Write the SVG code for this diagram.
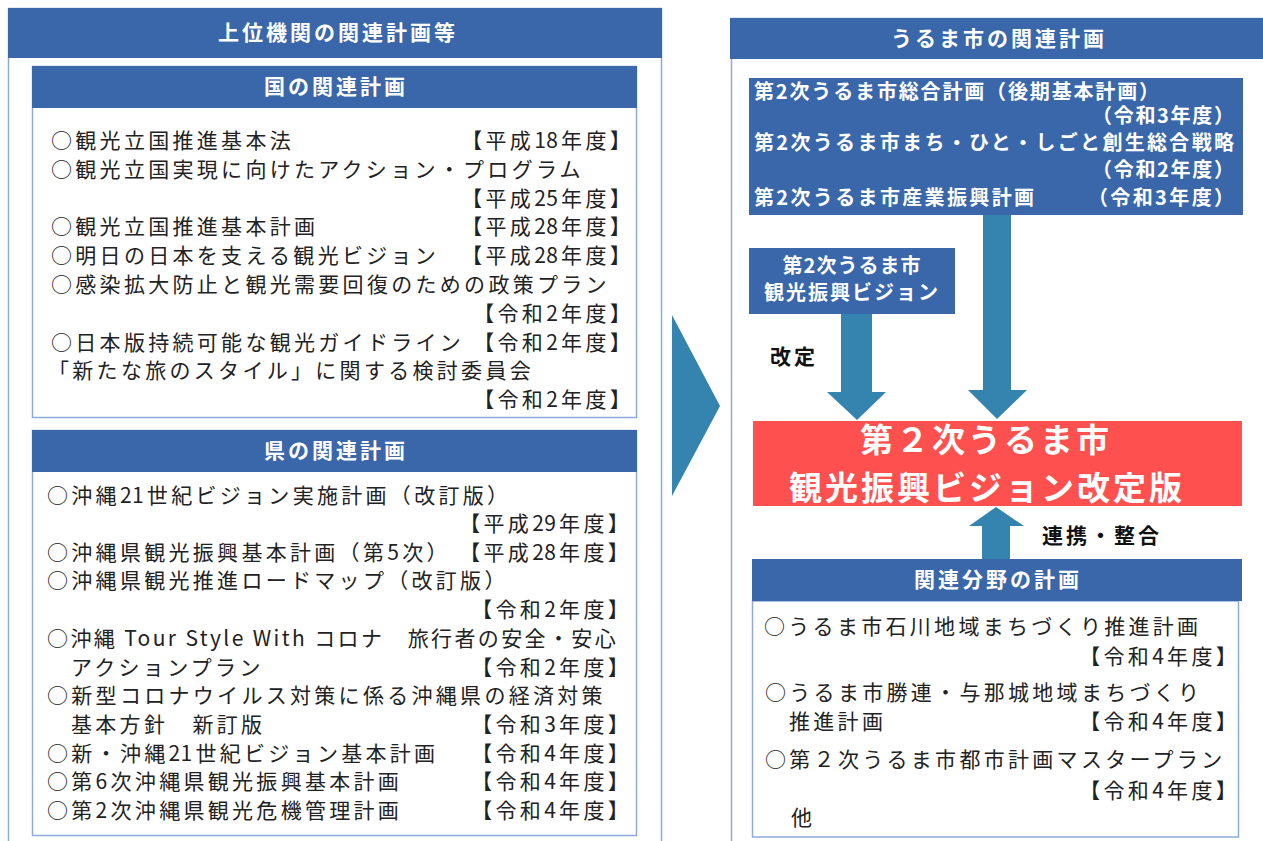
<svg xmlns="http://www.w3.org/2000/svg" width="1263" height="841" viewBox="0 0 1263 841">
<style>
text{font-family:"Noto Sans CJK JP","Noto Sans",sans-serif;}
.hd{fill:#3A67AA;}
.bd{fill:#fff;stroke:#8FAADC;stroke-width:1.5;}
.ht{fill:#fff;font-size:21px;font-weight:700;letter-spacing:3px;text-anchor:middle;}
.t{fill:#222;font-size:21px;letter-spacing:3.3px;}
.e{fill:#222;font-size:21px;letter-spacing:3.3px;text-anchor:end;}
.d{letter-spacing:0.3px;}
.wt{fill:#fff;font-size:20px;font-weight:700;}
.arr{fill:#3584B0;}
.lbl{fill:#111;font-size:21px;font-weight:700;letter-spacing:3px;}
.red{fill:#FF5050;}
.rt{fill:#fff;font-size:33px;font-weight:700;letter-spacing:3px;text-anchor:middle;}
</style>
<rect width="1263" height="841" fill="#fff"/>

<g id="left-panel">
<rect class="bd" x="8.5" y="8.5" width="653" height="845"/>
<rect class="hd" x="8" y="8" width="654" height="50"/>
<text class="ht" x="338" y="40">上位機関の関連計画等</text>
</g>

<g id="kuni">
<rect class="bd" x="32.5" y="66.5" width="604" height="351"/>
<rect class="hd" x="32" y="66" width="605" height="42"/>
<text class="ht" x="336" y="94">国の関連計画</text>
<text class="t" x="51" y="148">○観光立国推進基本法</text>
<text class="e" x="634" y="148">【平成<tspan class="d">1</tspan>8年度】</text>
<text class="t" x="51" y="177">○観光立国実現に向けたアクション・プログラム</text>
<text class="e" x="634" y="206">【平成<tspan class="d">2</tspan>5年度】</text>
<text class="t" x="51" y="234">○観光立国推進基本計画</text>
<text class="e" x="634" y="234">【平成<tspan class="d">2</tspan>8年度】</text>
<text class="t" x="51" y="263">○明日の日本を支える観光ビジョン</text>
<text class="e" x="634" y="263">【平成<tspan class="d">2</tspan>8年度】</text>
<text class="t" x="51" y="292">○感染拡大防止と観光需要回復のための政策プラン</text>
<text class="e" x="634" y="321">【令和2年度】</text>
<text class="t" x="51" y="350">○日本版持続可能な観光ガイドライン</text>
<text class="e" x="634" y="350">【令和2年度】</text>
<text class="t" x="48" y="378">「新たな旅のスタイル」に関する検討委員会</text>
<text class="e" x="634" y="407">【令和2年度】</text>
</g>

<g id="ken">
<rect class="bd" x="32.5" y="430.5" width="604" height="405"/>
<rect class="hd" x="32" y="430" width="605" height="42"/>
<text class="ht" x="336" y="458">県の関連計画</text>
<text class="t" x="47" y="503">○沖縄<tspan class="d">2</tspan>1世紀ビジョン実施計画（改訂版）</text>
<text class="e" x="632" y="531">【平成<tspan class="d">2</tspan>9年度】</text>
<text class="t" x="47" y="560">○沖縄県観光振興基本計画（第5次）</text>
<text class="e" x="632" y="560">【平成<tspan class="d">2</tspan>8年度】</text>
<text class="t" x="47" y="588">○沖縄県観光推進ロードマップ（改訂版）</text>
<text class="e" x="632" y="617">【令和2年度】</text>
<text class="t" x="47" y="646" textLength="572" lengthAdjust="spacing">○沖縄 Tour Style With コロナ　旅行者の安全・安心</text>
<text class="t" x="71" y="675">アクションプラン</text>
<text class="e" x="632" y="675">【令和2年度】</text>
<text class="t" x="47" y="703">○新型コロナウイルス対策に係る沖縄県の経済対策</text>
<text class="t" x="71" y="732">基本方針　新訂版</text>
<text class="e" x="632" y="732">【令和3年度】</text>
<text class="t" x="47" y="761">○新・沖縄<tspan class="d">2</tspan>1世紀ビジョン基本計画</text>
<text class="e" x="632" y="761">【令和4年度】</text>
<text class="t" x="47" y="789">○第6次沖縄県観光振興基本計画</text>
<text class="e" x="632" y="789">【令和4年度】</text>
<text class="t" x="47" y="818">○第2次沖縄県観光危機管理計画</text>
<text class="e" x="632" y="818">【令和4年度】</text>
</g>

<g id="chevron">
<polygon class="arr" points="672,315 720,406 672,496"/>
</g>

<g id="right-panel">
<rect class="bd" x="731.5" y="18.5" width="540" height="840"/>
<rect class="hd" x="730" y="18" width="533" height="41"/>
<text class="ht" x="999" y="46">うるま市の関連計画</text>
</g>

<g id="uruma-plans">
<rect class="hd" x="749" y="78" width="494" height="137"/>
<text class="wt" x="754" y="99" textLength="405" lengthAdjust="spacing">第2次うるま市総合計画（後期基本計画）</text>
<text class="wt" x="1092" y="123" textLength="142" lengthAdjust="spacing">（令和3年度）</text>
<text class="wt" x="754" y="150" textLength="480" lengthAdjust="spacing">第2次うるま市まち・ひと・しごと創生総合戦略</text>
<text class="wt" x="1092" y="177" textLength="142" lengthAdjust="spacing">（令和2年度）</text>
<text class="wt" x="754" y="205" textLength="280" lengthAdjust="spacing">第2次うるま市産業振興計画</text>
<text class="wt" x="1088" y="205" textLength="146" lengthAdjust="spacing">（令和3年度）</text>
</g>

<g id="vision">
<rect class="hd" x="749" y="248" width="206" height="66"/>
<text class="wt" x="852" y="273" text-anchor="middle" style="letter-spacing:1px">第2次うるま市</text>
<text class="wt" x="852" y="300" text-anchor="middle" style="letter-spacing:2px">観光振興ビジョン</text>
</g>

<g id="connectors">
<polygon class="arr" points="841,314 872,314 872,392 886,392 857,420 827,392 841,392"/>
<polygon class="arr" points="983,215 1011,215 1011,390 1027,390 997,419 968,390 983,390"/>
<polygon class="arr" points="982,560 1010,560 1010,526 1024,526 996,507 969,526 982,526"/>
<text class="lbl" x="770" y="364">改定</text>
<text class="lbl" x="1042" y="543">連携・整合</text>
</g>

<g id="revised">
<rect class="red" x="753" y="421" width="489" height="85"/>
<text class="rt" x="986" y="452">第２次うるま市</text>
<text class="rt" x="987" y="500">観光振興ビジョン改定版</text>
</g>

<g id="related">
<rect class="bd" x="752.5" y="601" width="486" height="236"/>
<rect class="hd" x="752" y="559" width="490" height="42"/>
<text class="ht" x="998" y="587">関連分野の計画</text>
<text class="t" x="764" y="634">○うるま市石川地域まちづくり推進計画</text>
<text class="e" x="1240" y="664">【令和4年度】</text>
<text class="t" x="765" y="700">○うるま市勝連・与那城地域まちづくり</text>
<text class="t" x="789" y="729">推進計画</text>
<text class="e" x="1240" y="729">【令和4年度】</text>
<text class="t" x="765" y="767">○第２次うるま市都市計画マスタープラン</text>
<text class="e" x="1240" y="798">【令和4年度】</text>
<text class="t" x="791" y="825">他</text>
</g>
</svg>
